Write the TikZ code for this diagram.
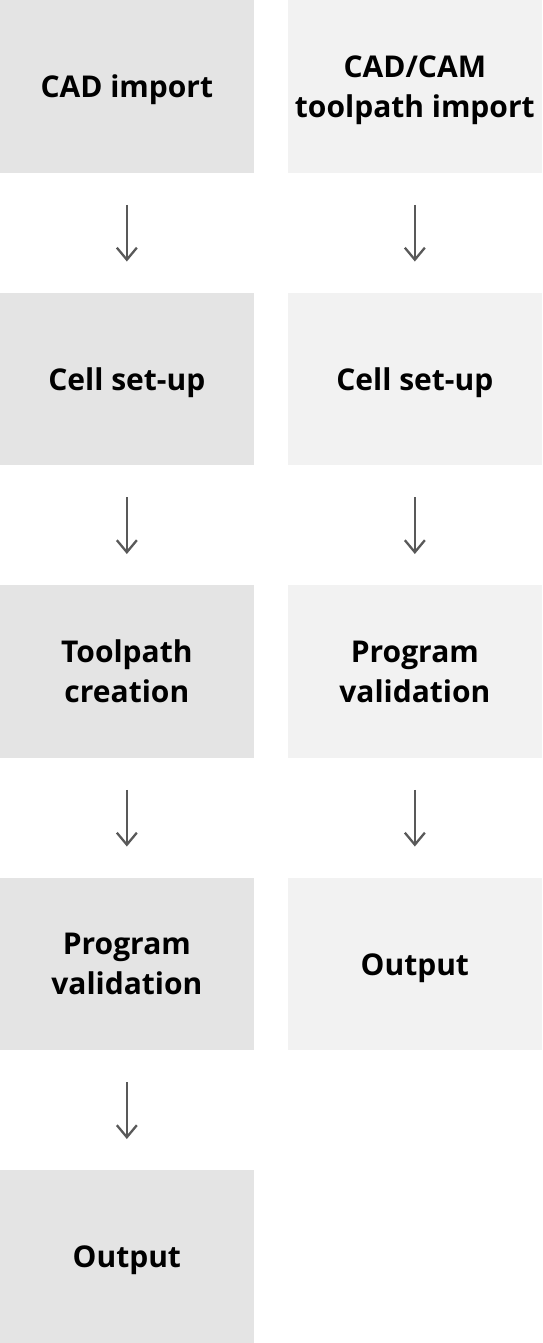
\documentclass[tikz,border=0pt]{standalone}
\usepackage{fontspec}
\setmainfont{Open Sans}
\usetikzlibrary{arrows.meta}
\definecolor{boxA}{HTML}{E4E4E4}
\definecolor{boxB}{HTML}{F2F2F2}
\definecolor{arr}{HTML}{595959}
\tikzset{
  stepA/.style={fill=boxA, draw=none, minimum width=253.3pt, minimum height=172.5pt, inner sep=0pt, anchor=north west},
  stepB/.style={stepA, fill=boxB},
  lbl/.style={font=\fontsize{30}{40}\selectfont\bfseries, align=center, yshift=-3.5pt, inner sep=0pt,
    execute at begin node={\vphantom{lp}}, execute at end node={\vphantom{lp}}},
  flow/.style={draw=arr, line width=2.3pt, -{Straight Barb[length=12pt,width=20pt,line width=2.3pt]}, shorten <=32pt, shorten >=31pt}
}
\begin{document}
\begin{tikzpicture}[x=1pt,y=-1pt]
\useasboundingbox (0,0) rectangle (542,1343);
\node[stepA, label={[lbl]center:CAD import}] (a1) at (0,0) {};
\node[stepA, label={[lbl]center:Cell set-up}] (a2) at (0,292.5) {};
\node[stepA, label={[lbl]center:{Toolpath\\creation}}] (a3) at (0,585) {};
\node[stepA, label={[lbl]center:{Program\\validation}}] (a4) at (0,877.5) {};
\node[stepA, label={[lbl]center:Output}] (a5) at (0,1170) {};
\node[stepB, label={[lbl]center:{CAD/CAM\\toolpath import}}] (b1) at (288,0) {};
\node[stepB, label={[lbl]center:Cell set-up}] (b2) at (288,292.5) {};
\node[stepB, label={[lbl]center:{Program\\validation}}] (b3) at (288,585) {};
\node[stepB, label={[lbl]center:Output}] (b4) at (288,877.5) {};
\draw[flow] (a1.south) -- (a2.north);
\draw[flow] (a2.south) -- (a3.north);
\draw[flow] (a3.south) -- (a4.north);
\draw[flow] (a4.south) -- (a5.north);
\draw[flow] (b1.south) -- (b2.north);
\draw[flow] (b2.south) -- (b3.north);
\draw[flow] (b3.south) -- (b4.north);
\end{tikzpicture}
\end{document}
